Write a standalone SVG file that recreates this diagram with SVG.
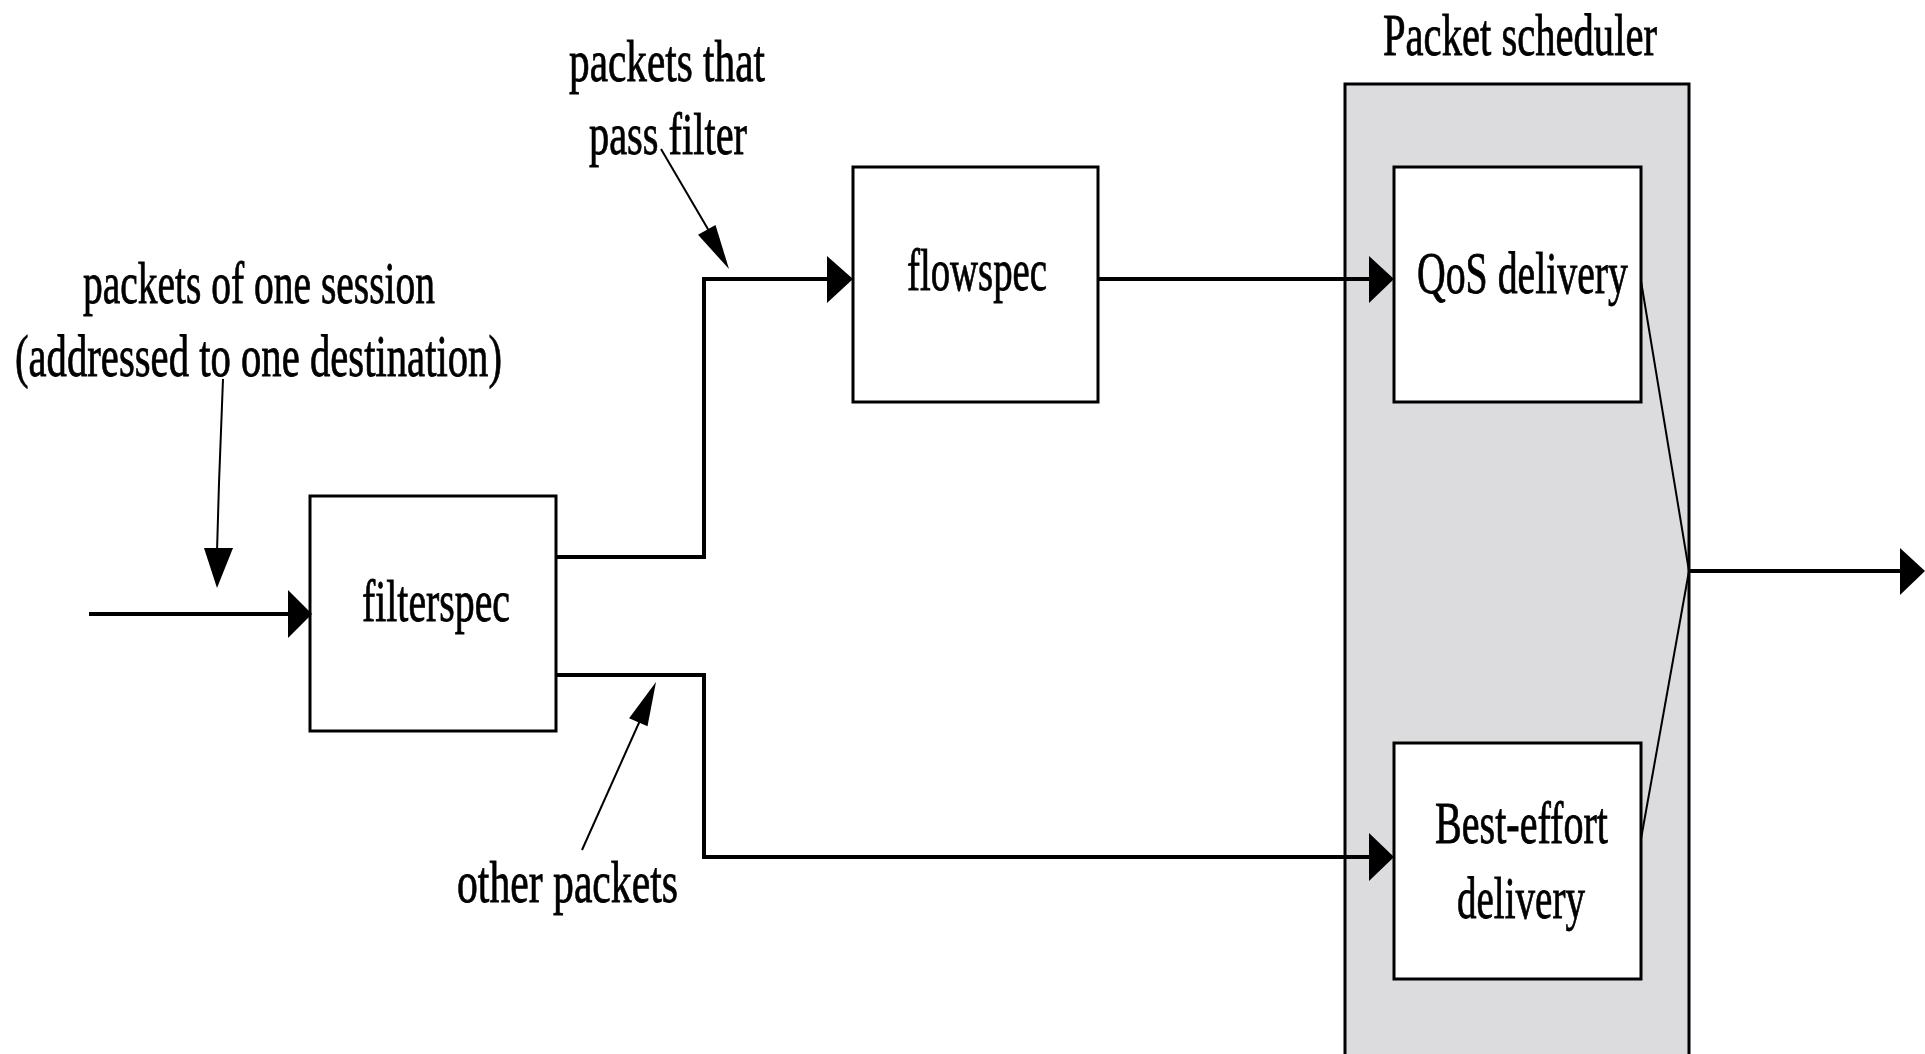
<svg xmlns="http://www.w3.org/2000/svg" width="1925" height="1054" viewBox="0 0 1925 1054">
<style>
  .box { fill: #ffffff; stroke: #000000; stroke-width: 3; }
  .group { fill: #dcdbde; stroke: #000000; stroke-width: 3; }
  .lbl { font-family: "Liberation Serif", "Times New Roman", serif; font-size: 60px; fill: #000000; stroke: #000000; stroke-width: 0.8; }
  .wire { fill: none; stroke: #000000; stroke-width: 4; }
  .thin { fill: none; stroke: #000000; stroke-width: 2; }
  .head { fill: #000000; stroke: none; }
</style>
<rect x="0" y="0" width="1925" height="1054" fill="#ffffff"/>

<g id="packet-scheduler">
  <rect class="group" x="1345" y="84" width="344" height="980"/>
  <text class="lbl" x="1383" y="55" textLength="274" lengthAdjust="spacingAndGlyphs">Packet scheduler</text>
</g>

<g id="filterspec">
  <rect class="box" x="310" y="496" width="246" height="235"/>
  <text class="lbl" x="362" y="621" textLength="148" lengthAdjust="spacingAndGlyphs">filterspec</text>
</g>

<g id="flowspec">
  <rect class="box" x="853" y="167" width="245" height="235"/>
  <text class="lbl" x="907" y="290" textLength="140" lengthAdjust="spacingAndGlyphs">flowspec</text>
</g>

<g id="qos-delivery">
  <rect class="box" x="1394" y="167" width="247" height="235"/>
  <text class="lbl" x="1417" y="293" textLength="211" lengthAdjust="spacingAndGlyphs">QoS delivery</text>
</g>

<g id="best-effort-delivery">
  <rect class="box" x="1394" y="743" width="247" height="236"/>
  <text class="lbl" x="1435" y="843" textLength="173" lengthAdjust="spacingAndGlyphs">Best-effort</text>
  <text class="lbl" x="1457" y="918" textLength="128" lengthAdjust="spacingAndGlyphs">delivery</text>
</g>

<g id="labels">
  <text class="lbl" x="569" y="81" textLength="196" lengthAdjust="spacingAndGlyphs">packets that</text>
  <text class="lbl" x="589" y="154" textLength="158" lengthAdjust="spacingAndGlyphs">pass filter</text>
  <text class="lbl" x="83" y="303" textLength="352" lengthAdjust="spacingAndGlyphs">packets of one session</text>
  <text class="lbl" x="15" y="376" textLength="487" lengthAdjust="spacingAndGlyphs">(addressed to one destination)</text>
  <text class="lbl" x="457" y="902" textLength="221" lengthAdjust="spacingAndGlyphs">other packets</text>
</g>

<g id="connectors">
  <!-- input into filterspec -->
  <line class="wire" x1="89" y1="614" x2="292" y2="614"/>
  <polygon class="head" points="288,590 312,614 288,638"/>
  <!-- session label pointer -->
  <polyline class="thin" points="223,379 219,483 217,552"/>
  <polygon class="head" points="204,548 233,548 217,588"/>
  <!-- filterspec to flowspec -->
  <polyline class="wire" points="556,557 704,557 704,279 831,279"/>
  <polygon class="head" points="827,256 853,279 827,303"/>
  <!-- pass filter pointer -->
  <line class="thin" x1="661" y1="149" x2="712" y2="236"/>
  <polygon class="head" points="698,234.8 729,269 715.5,225"/>
  <!-- filterspec to best-effort -->
  <polyline class="wire" points="556,675 704,675 704,857 1372,857"/>
  <polygon class="head" points="1369,833 1394,857 1369,881"/>
  <!-- other packets pointer -->
  <line class="thin" x1="582" y1="850" x2="642" y2="716"/>
  <polygon class="head" points="647.5,726.3 656,682 629.1,718.3"/>
  <!-- flowspec to QoS -->
  <line class="wire" x1="1098" y1="279" x2="1372" y2="279"/>
  <polygon class="head" points="1369,256 1394,279 1369,303"/>
  <!-- merge to output -->
  <line class="thin" x1="1641" y1="281" x2="1689" y2="571"/>
  <line class="thin" x1="1641" y1="839" x2="1689" y2="571"/>
  <line class="wire" x1="1689" y1="571" x2="1903" y2="571"/>
  <polygon class="head" points="1900,548 1925,571 1900,595"/>
</g>
</svg>
